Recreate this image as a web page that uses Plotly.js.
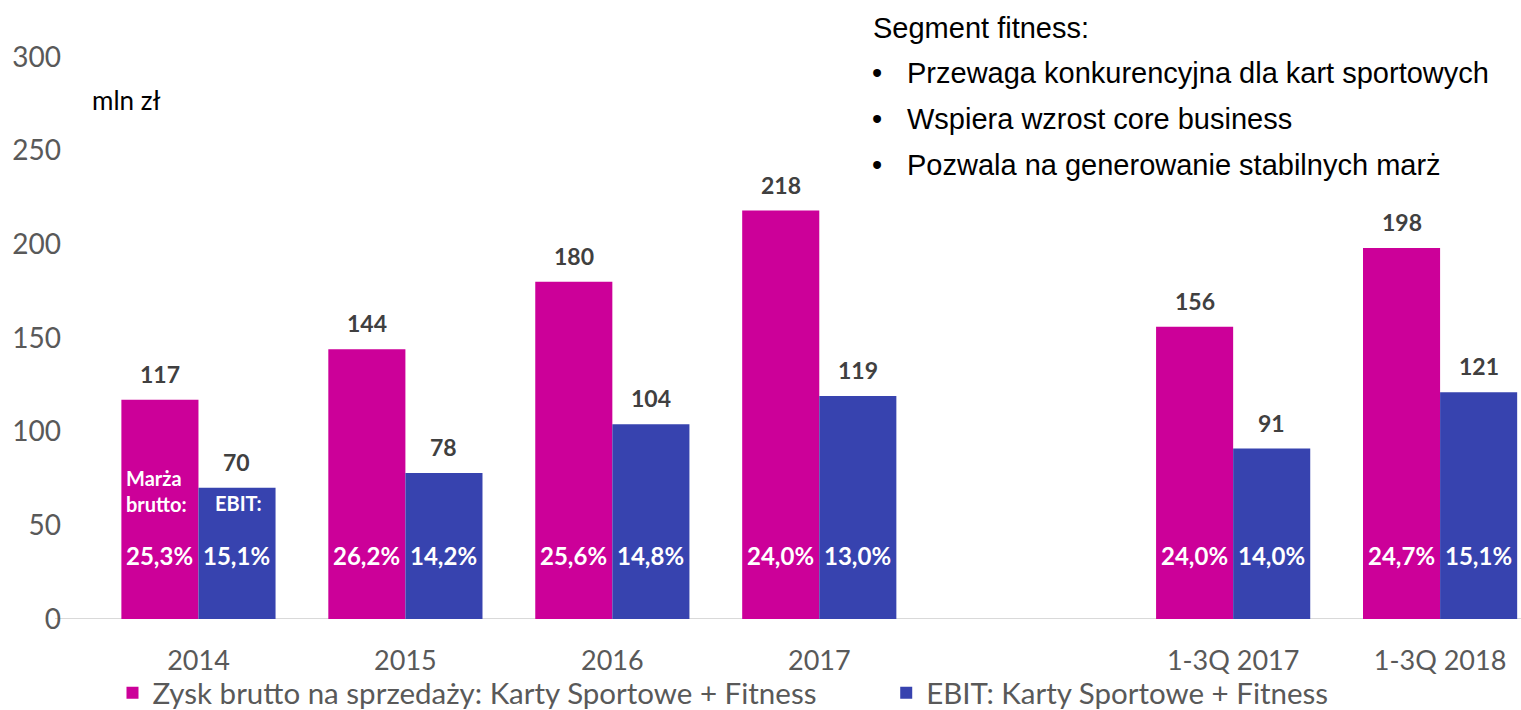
<!DOCTYPE html>
<html>
<head>
<meta charset="utf-8">
<script src="https://cdn.plot.ly/plotly-3.0.1.min.js"></script>
<style>html,body{margin:0;padding:0;background:#fff;}#chart{width:1521px;height:710px;}</style>
</head>
<body>
<div id="chart"></div>
<script>
const categories = ["2014", "2015", "2016", "2017", " ", "1-3Q 2017", "1-3Q 2018"];
const grossProfit = [117, 144, 180, 218, null, 156, 198];
const ebit = [70, 78, 104, 119, null, 91, 121];
const grossMargin = ["25,3%", "26,2%", "25,6%", "24,0%", "", "24,0%", "24,7%"];
const ebitMargin = ["15,1%", "14,2%", "14,8%", "13,0%", "", "14,0%", "15,1%"];
const seriesNames = ["Zysk brutto na sprzedaży: Karty Sportowe + Fitness", "EBIT: Karty Sportowe + Fitness"];
const unitLabel = "mln zł";
const boxTitle = "Segment fitness:";
const bullets = ["Przewaga konkurencyjna dla kart sportowych", "Wspiera wzrost core business", "Pozwala na generowanie stabilnych marż"];
const yTicks = [0, 50, 100, 150, 200, 250, 300];

const MAGENTA = "#CC0099";
const BLUE = "#3743AF";
const FONT = "Lato, 'Open Sans', sans-serif";
const ARIAL = "'Liberation Sans', Arial, sans-serif";
const HALF = 38.5;

const traces = [
  {type: "bar", name: seriesNames[0], x: categories, y: grossProfit, marker: {color: MAGENTA}, hoverinfo: "skip", legend: "legend"},
  {type: "bar", name: seriesNames[1], x: categories, y: ebit, marker: {color: BLUE}, hoverinfo: "skip", legend: "legend2"}
];

const annotations = [];
categories.forEach((c, i) => {
  if (grossProfit[i] != null) {
    annotations.push({x: i, y: grossProfit[i], xref: "x", yref: "y", xshift: -HALF, yshift: 26, yanchor: "middle",
      text: "<b>" + grossProfit[i] + "</b>", showarrow: false, font: {family: FONT, size: 23, color: "#404040"}});
    annotations.push({x: i, y: 0, xref: "x", yref: "y", xshift: -HALF, yshift: 64, yanchor: "middle",
      text: "<b>" + grossMargin[i] + "</b>", showarrow: false, font: {family: FONT, size: 24, color: "#ffffff"}});
  }
  if (ebit[i] != null) {
    annotations.push({x: i, y: ebit[i], xref: "x", yref: "y", xshift: HALF, yshift: 26, yanchor: "middle",
      text: "<b>" + ebit[i] + "</b>", showarrow: false, font: {family: FONT, size: 23, color: "#404040"}});
    annotations.push({x: i, y: 0, xref: "x", yref: "y", xshift: HALF, yshift: 64, yanchor: "middle",
      text: "<b>" + ebitMargin[i] + "</b>", showarrow: false, font: {family: FONT, size: 24, color: "#ffffff"}});
  }
});
annotations.push({x: 0, y: 0, xref: "x", yref: "y", xshift: -HALF - 3, yshift: 128, yanchor: "middle",
  text: "<b>Marża<br>brutto:</b>", showarrow: false, align: "left", font: {family: FONT, size: 20, color: "#ffffff"}});
annotations.push({x: 0, y: 0, xref: "x", yref: "y", xshift: HALF + 2, yshift: 116, yanchor: "middle",
  text: "<b>EBIT:</b>", showarrow: false, font: {family: FONT, size: 20, color: "#ffffff"}});

const pixelTexts = [];
pixelTexts.push({x: 89, y: 100, text: unitLabel, font: {family: FONT, size: 26, color: "#000000"}});
pixelTexts.push({x: 871, y: 28, text: boxTitle, font: {family: ARIAL, size: 29, color: "#000000"}});
bullets.forEach((b, k) => {
  pixelTexts.push({x: 870, y: 73 + 46 * k, text: "•", font: {family: ARIAL, size: 29, color: "#000000"}});
  pixelTexts.push({x: 905, y: 73 + 46 * k, text: b, font: {family: ARIAL, size: 29, color: "#000000"}});
});

const W = 1521, H = 710, ML = 94.5, MT = 57, MB = 91;
const PW = W - ML, PH = H - MT - MB;
pixelTexts.forEach(p => {
  annotations.push({xref: "paper", yref: "paper", showarrow: false, xanchor: "left", yanchor: "middle",
    x: (p.x - ML) / PW, y: 1 - (p.y - MT) / PH, text: p.text, font: p.font});
});

const legendFont = {family: FONT, size: 29.5, color: "#595959"};
const legendY = 1 - (693 - MT) / PH;

const layout = {
  width: W, height: H,
  margin: {l: ML, r: 0, t: MT, b: MB, pad: 0, autoexpand: false},
  paper_bgcolor: "#fff", plot_bgcolor: "#fff",
  barmode: "group", bargap: 0.255, bargroupgap: 0,
  font: {family: FONT},
  xaxis: {type: "category", categoryorder: "array", categoryarray: categories, range: [-0.5, 6.391],
    showgrid: false, zeroline: false, showline: false, ticks: "", ticklabelstandoff: 23,
    tickfont: {family: FONT, size: 27, color: "#595959"}, fixedrange: true, automargin: false},
  yaxis: {range: [0, 300], tickvals: yTicks, showgrid: false, zeroline: false, showline: false,
    ticks: "", ticklabelstandoff: 33, tickfont: {family: FONT, size: 28, color: "#595959"}, fixedrange: true, automargin: false},
  shapes: [{type: "line", xref: "paper", yref: "y", x0: -0.028, x1: 1, y0: 0, y1: 0, line: {color: "#D9D9D9", width: 2}, layer: "below"}],
  showlegend: true,
  legend: {orientation: "h", x: (112 - ML) / PW, xanchor: "left", y: legendY, yanchor: "middle",
    font: legendFont, itemsizing: "constant", bgcolor: "rgba(0,0,0,0)"},
  legend2: {orientation: "h", x: (886 - ML) / PW, xanchor: "left", y: legendY, yanchor: "middle",
    font: legendFont, itemsizing: "constant", bgcolor: "rgba(0,0,0,0)"},
  annotations: annotations
};

Plotly.newPlot("chart", traces, layout, {displayModeBar: false, staticPlot: true});
</script>
</body>
</html>
